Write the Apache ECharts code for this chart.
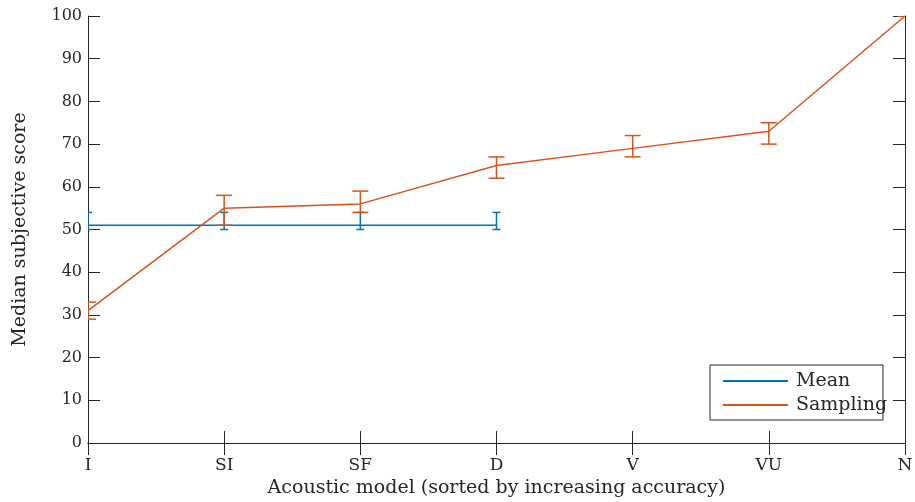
<!DOCTYPE html>
<html><head><meta charset="utf-8">
<script src="https://cdn.jsdelivr.net/npm/echarts@6/dist/echarts.min.js"></script>
<style>html,body{margin:0;padding:0;background:#fff}#c{width:915px;height:502px}</style>
</head><body><div id="c"></div>
<script>
const categories = ['I', 'SI', 'SF', 'D', 'V', 'VU', 'N'];
const meanValues = [51, 51, 51, 51];
const meanLow = [50, 50, 50, 50];
const meanHigh = [54, 54, 54, 54];
const samplingValues = [31, 55, 56, 65, 69, 73, 100];
const samplingLow = [29, 51, 54, 62, 67, 70, 100];
const samplingHigh = [33, 58, 59, 67, 72, 75, 100];
const yMin = 0, yMax = 100, yStep = 10;

const BLUE = '#0072BD', ORANGE = '#D95319', AX = '#262626';
const FONT = 'DejaVu Serif';

function errRender(halfCap, color) {
  return function (params, api) {
    const i = api.value(0);
    const lo = api.coord([i, api.value(1)]);
    const hi = api.coord([i, api.value(2)]);
    const st = { stroke: color, lineWidth: 1.5 };
    return { type: 'group', children: [
      { type: 'line', shape: { x1: lo[0], y1: lo[1], x2: hi[0], y2: hi[1] }, style: st },
      { type: 'line', shape: { x1: lo[0] - halfCap, y1: lo[1], x2: lo[0] + halfCap, y2: lo[1] }, style: st },
      { type: 'line', shape: { x1: hi[0] - halfCap, y1: hi[1], x2: hi[0] + halfCap, y2: hi[1] }, style: st }
    ]};
  };
}

const chart = echarts.init(document.getElementById('c'), null, { renderer: 'canvas' });
const axisCommon = {
  axisLine: { show: true, lineStyle: { color: AX, width: 1 } },
  axisTick: { show: true, inside: true, length: 12, lineStyle: { color: AX } },
  splitLine: { show: false }
};
chart.setOption({
  animation: false,
  grid: { left: 88, right: 10, top: 16, bottom: 59, outerBoundsMode: 'none', containLabel: false },
  textStyle: { fontFamily: FONT },
  legend: {
    data: [{ name: 'Mean', icon: 'rect' }, { name: 'Sampling', icon: 'rect' }],
    orient: 'vertical', left: 718, top: 366, itemWidth: 65, itemHeight: 2, itemGap: 4,
    textStyle: { fontFamily: FONT, fontSize: 19, color: AX, lineHeight: 20, padding: [0, 0, 0, 3] }
  },
  graphic: [{ type: 'rect', shape: { x: 710, y: 365, width: 173, height: 55 },
    style: { fill: 'transparent', stroke: AX, lineWidth: 1 }, z: 100 }],
  xAxis: [
    Object.assign({ type: 'category', data: categories, boundaryGap: false, position: 'bottom',
      name: 'Acoustic model (sorted by increasing accuracy)', nameLocation: 'middle', nameGap: 36,
      nameTextStyle: { fontFamily: FONT, fontSize: 19, color: AX },
      axisLabel: { fontFamily: FONT, fontSize: 17, color: AX, margin: 14 } }, axisCommon),
    Object.assign({ type: 'category', data: categories, boundaryGap: false, position: 'top',
      axisLabel: { show: false } }, axisCommon)
  ],
  yAxis: [
    Object.assign({ type: 'value', min: yMin, max: yMax, interval: yStep, position: 'left',
      name: 'Median subjective score', nameLocation: 'middle', nameGap: 58,
      nameTextStyle: { fontFamily: FONT, fontSize: 19, color: AX },
      axisLabel: { fontFamily: FONT, fontSize: 16, color: AX, margin: 6 } }, axisCommon),
    Object.assign({ type: 'value', min: yMin, max: yMax, interval: yStep, position: 'right',
      axisLabel: { show: false } }, axisCommon)
  ],
  series: [
    { name: 'Mean', type: 'line', data: meanValues, showSymbol: false, symbol: 'none',
      lineStyle: { color: BLUE, width: 1.5 }, itemStyle: { color: BLUE }, z: 3 },
    { name: 'Sampling', type: 'line', data: samplingValues, showSymbol: false, symbol: 'none',
      lineStyle: { color: ORANGE, width: 1.5 }, itemStyle: { color: ORANGE }, z: 4 },
    { name: 'meanErr', type: 'custom', clip: true, silent: true, z: 3,
      renderItem: errRender(4, BLUE),
      data: meanValues.map((v, i) => [i, meanLow[i], meanHigh[i]]) },
    { name: 'samplingErr', type: 'custom', clip: true, silent: true, z: 4,
      renderItem: errRender(8, ORANGE),
      data: samplingValues.map((v, i) => [i, samplingLow[i], samplingHigh[i]]) }
  ]
});
</script></body></html>
